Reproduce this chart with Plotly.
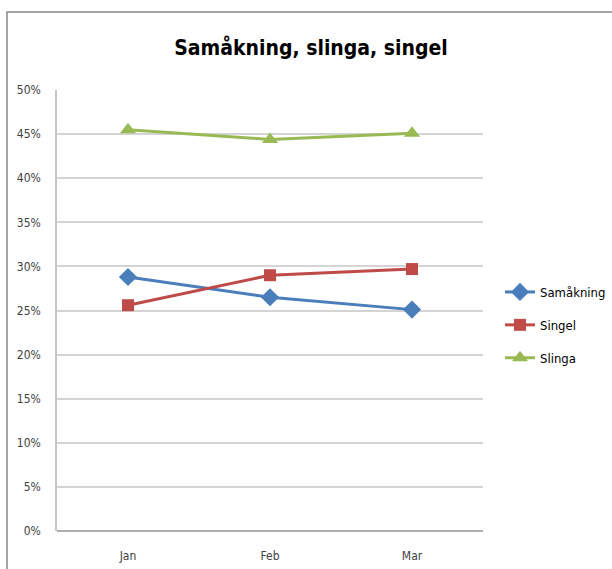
import plotly.graph_objects as go

months = ["Jan", "Feb", "Mar"]
samakning = [0.288, 0.265, 0.251]
singel = [0.256, 0.290, 0.297]
slinga = [0.455, 0.444, 0.451]
y_ticks = [0, 0.05, 0.10, 0.15, 0.20, 0.25, 0.30, 0.35, 0.40, 0.45, 0.50]

series = [
    ("Samåkning", samakning, "#4a7ebb", "diamond", 14),
    ("Singel", singel, "#be4b48", "square", 12),
    ("Slinga", slinga, "#98b954", "triangle-up", 14),
]

fig = go.Figure()
for i, (name, vals, col, sym, sz) in enumerate(series):
    fig.add_trace(go.Scatter(
        x=months, y=vals, name=name, mode="lines+markers",
        line=dict(color=col, width=3),
        marker=dict(symbol=sym, size=sz, color=col),
        legendgroup=f"g{i}",
    ))

L, R, T, B = 57, 129, 90, 38
W, H = 612, 569
pw, ph = W - L - R, H - T - B
FONT = "DejaVu Sans Condensed, Liberation Sans, sans-serif"

fig.update_layout(
    template="none",
    width=W, height=H,
    margin=dict(l=L, r=R, t=T, b=B, autoexpand=False),
    paper_bgcolor="white", plot_bgcolor="white",
    font=dict(family=FONT, size=12, color="#404040"),
    title=dict(text="<b>Samåkning, slinga, singel</b>", x=(311) / W, xanchor="center",
               y=1 - 48 / H, yanchor="middle",
               font=dict(size=21, color="black", family=FONT)),
    xaxis=dict(range=[-0.5, 2.5], showgrid=False, showline=False, ticks="",
               ticklabelstandoff=16, automargin=False,
               tickfont=dict(size=12, color="#404040"), zeroline=False),
    yaxis=dict(range=[0, 0.5], tickvals=y_ticks, tickformat=".0%",
               showgrid=True, gridcolor="#d4d4d4", gridwidth=1.5,
               showline=True, linecolor="#c4c4c4", linewidth=1.5,
               ticks="", ticklabelstandoff=12, automargin=False,
               zeroline=True, zerolinecolor="#b0b0b0", zerolinewidth=1.5,
               tickfont=dict(size=12, color="#404040")),
    legend=dict(x=(500 - L) / pw, y=(531 - 325) / ph, xanchor="left", yanchor="middle",
                font=dict(size=13, color="black", family=FONT), tracegroupgap=13,
                itemwidth=30, bgcolor="rgba(0,0,0,0)", borderwidth=0),
    showlegend=True,
    shapes=[dict(type="rect", xref="paper", yref="paper",
                 x0=(7 - L) / pw, x1=2, y0=-1, y1=(531 - 12) / ph,
                 line=dict(color="#888888", width=1.5), layer="below")],
)

fig.write_html("out.html", config={"displayModeBar": False},
               post_script="document.body.style.margin='0px';")
